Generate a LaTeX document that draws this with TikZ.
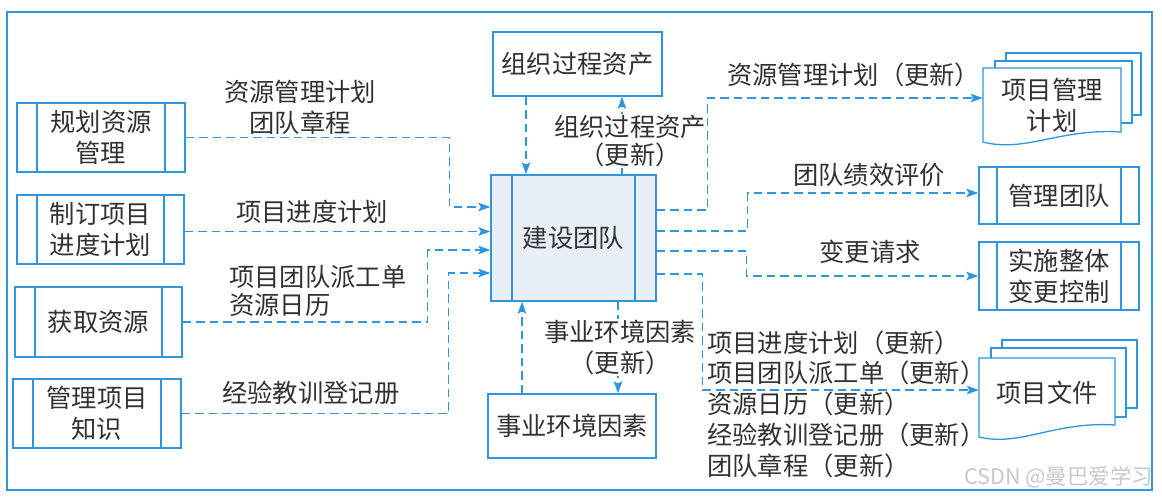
\documentclass[tikz,border=0pt]{standalone}
\usepackage{fontspec}
\setmainfont{Noto Sans CJK SC}
\usetikzlibrary{arrows.meta}
\definecolor{lb}{RGB}{45,150,220}
\definecolor{tx}{RGB}{50,50,50}
\definecolor{cf}{RGB}{232,239,246}
\definecolor{wm}{RGB}{200,200,200}
\begin{document}
\begin{tikzpicture}[x=1pt,y=-1pt,
  every node/.style={text=tx, font=\fontsize{25.3}{31}\selectfont, inner sep=0pt, align=center},
  box/.style={draw=lb, line width=1.3pt, fill=white},
  pp/.style={box, path picture={\draw[lb,line width=1.3pt]
     ([xshift=#1]path picture bounding box.north west) -- ([xshift=#1]path picture bounding box.south west)
     ([xshift=-#1]path picture bounding box.north east) -- ([xshift=-#1]path picture bounding box.south east);}},
  pp/.default=20pt,
  conn/.style={draw=lb, line width=1.35pt, dash pattern=on 8.5pt off 5pt, -{Stealth[length=12pt,width=8.5pt,inset=2.5pt]}},
  lbl/.style={fill=white, inner sep=1pt}
]
\useasboundingbox (0,0) rectangle (1162,498);
\draw[lb, line width=1.2pt] (7,12) rectangle (1152,490);

% left process boxes
\node[pp, minimum width=168pt, minimum height=69pt] (b1) at (101,137.5) {规划资源\\管理};
\node[pp, minimum width=167pt, minimum height=69pt] (b2) at (100.5,229.5) {制订项目\\进度计划};
\node[pp, minimum width=167pt, minimum height=70pt] (b3) at (98.5,322) {获取资源};
\node[pp, minimum width=168pt, minimum height=69pt] (b4) at (97,413.5) {管理项目\\知识};

% centre
\node[pp=21pt, fill=cf, minimum width=165pt, minimum height=126pt] (c) at (573.5,238) {建设团队};
\node[box, minimum width=169pt, minimum height=64pt] (t) at (577.5,64) {组织过程资产};
\node[box, minimum width=168pt, minimum height=64pt] (e) at (572,426) {事业环境因素};

% right process boxes
\node[pp=18pt, minimum width=160pt, minimum height=57pt] (mt) at (1059,195.5) {管理团队};
\node[pp=18pt, minimum width=160pt, minimum height=68pt] (ic) at (1059,276) {实施整体\\变更控制};

% document stacks
\draw[box] (1006,53) rectangle (1141,115);
\draw[box] (995,61) rectangle (1132,123);
\draw[box] (983,68) -- (1121,68) -- (1121,132) .. controls (1060,128) and (1025,153) .. (983,142) -- cycle;
\node[minimum width=138pt, minimum height=74pt] (pm) at (1052,105) {项目管理\\计划};

\draw[box] (1002,340) rectangle (1137,408);
\draw[box] (991,348) rectangle (1126,417);
\draw[box] (979,358) -- (1115,358) -- (1115,425) .. controls (1055,421) and (1020,447) .. (979,437) -- cycle;
\node[minimum width=136pt, minimum height=70pt] (pd) at (1047,393) {项目文件};

% connectors in
\draw[conn] (b1.east) -- ++(264,0) |- ([yshift=31pt]c.west);
\draw[conn] ([yshift=-2pt]b2.east) -- ([yshift=-2pt]b2.east -| c.west);
\draw[conn] (b3.east) -- ++(245,0) |- ([yshift=-12pt]c.west);
\draw[conn] (b4.east) -- ++(267,0) |- ([yshift=-35pt]c.west);
\draw[conn] ([xshift=-51.5pt]t.south) -- ([xshift=-51.5pt]t.south |- c.north);
\draw[conn] ([xshift=48.5pt]c.north) -- ([xshift=48.5pt]c.north |- t.south);
\draw[conn] ([xshift=-50pt]e.north) -- ([xshift=-50pt]e.north |- c.south);
\draw[conn] ([xshift=44.5pt]c.south) -- ([xshift=44.5pt]c.south |- e.north);

% connectors out
\draw[conn] ([yshift=28pt]c.east) -- ++(51,0) |- ([yshift=7pt]pm.west);
\draw[conn] ([yshift=7pt]c.east) -- ++(91,0) |- ([yshift=2.5pt]mt.west);
\draw[conn] ([yshift=-13pt]c.east) -- ++(90,0) |- (ic.west);
\draw[conn] ([yshift=-36pt]c.east) -- ++(46,0) |- ([yshift=3pt]pd.west);

% labels
\node (l1) at (300,107) {资源管理计划\\团队章程};
\node (l2) at (312,212) {项目进度计划};
\node[anchor=west, align=left, font=\fontsize{25.3}{28.5}\selectfont] (l3) at (229,291) {项目团队派工单\\资源日历};
\node[anchor=west] (l4) at (222,393) {经验教训登记册};
\node[lbl, font=\fontsize{25.3}{28.5}\selectfont] (l5) at (630,141) {组织过程资产\\（更新）};
\node[lbl] (l6) at (620,347.5) {事业环境因素\\（更新）};
\node[anchor=west] (r1) at (727,75) {资源管理计划（更新）};
\node (r2) at (869,175) {团队绩效评价};
\node (r3) at (870,252) {变更请求};
\node[anchor=west, align=left, font=\fontsize{25.3}{30.7}\selectfont] (r4) at (707,404) {项目进度计划（更新）\\项目团队派工单（更新）\\资源日历（更新）\\经验教训登记册（更新）\\团队章程（更新）};
\node[text=wm, font=\fontsize{21.5}{22}\selectfont] (wmk) at (1059,477) {CSDN @曼巴爱学习};
\end{tikzpicture}
\end{document}
